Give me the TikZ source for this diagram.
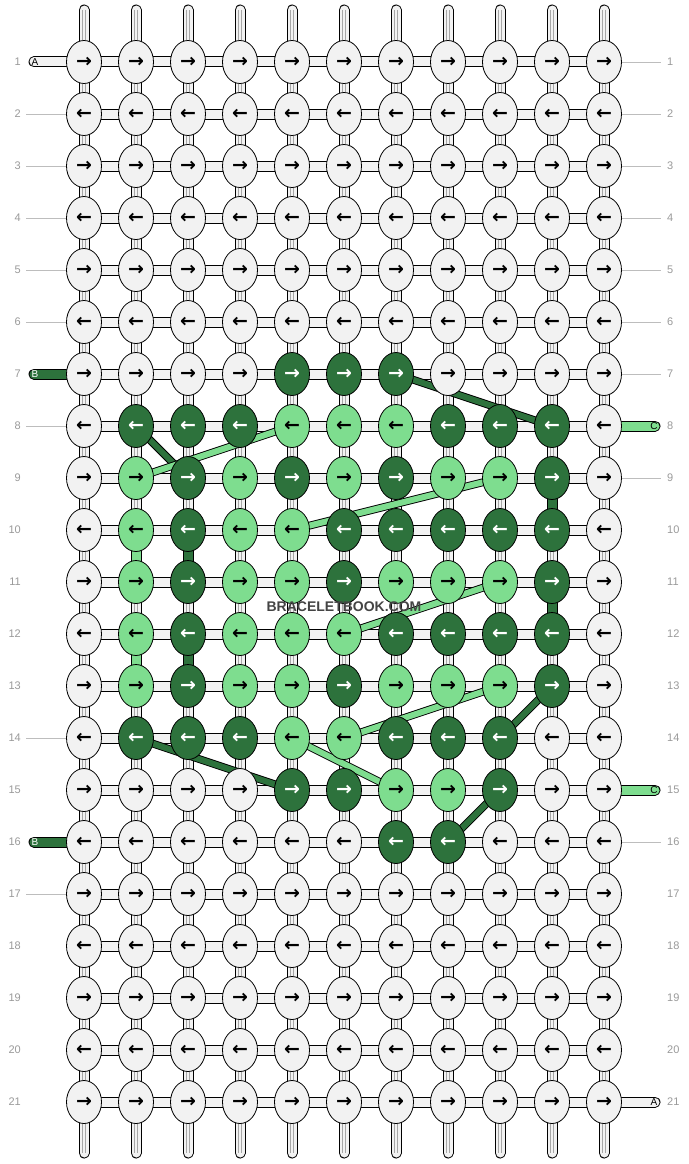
\documentclass[tikz,border=0pt]{standalone}
\usepackage{fontspec}
\setmainfont{Liberation Sans}
\newfontfamily\arrowfont{DejaVu Sans}
\usetikzlibrary{shapes.geometric}

\definecolor{knotw}{HTML}{F2F2F2}
\definecolor{knotl}{HTML}{7EDD8F}
\definecolor{knotd}{HTML}{2D723C}
\definecolor{textw}{HTML}{000000}
\definecolor{textl}{HTML}{000000}
\definecolor{textd}{HTML}{FFFFFF}
\definecolor{numgray}{HTML}{9A9A9A}
\definecolor{guidegray}{HTML}{BDBDBD}
\definecolor{markgray}{HTML}{444444}

\pgfdeclarelayer{strings}
\pgfsetlayers{strings,main}

\begin{document}
\begin{tikzpicture}[x=1pt, y=-1pt,
    knot/.style={ellipse, draw, line width=0.8pt, inner sep=0pt,
                 minimum width=35pt, minimum height=43pt,
                 font=\arrowfont\bfseries\fontsize{19}{19}\selectfont},
    cord/.style={draw=black, double=#1, double distance=9pt, line width=1pt},
    band/.style={draw=black, double=#1, double distance=6pt, line width=0.9pt},
    rownum/.style={text=numgray, inner sep=0pt, font=\fontsize{11}{11}\selectfont},
    tabtext/.style={inner sep=0pt, font=\fontsize{10}{10}\selectfont},
  ]

  \useasboundingbox (0,0) rectangle (688,1164);

  % knots, w = white, l = light green, d = dark green
  \foreach \r/\row in {
      1/{w,w,w,w,w,w,w,w,w,w,w},
      2/{w,w,w,w,w,w,w,w,w,w,w},
      3/{w,w,w,w,w,w,w,w,w,w,w},
      4/{w,w,w,w,w,w,w,w,w,w,w},
      5/{w,w,w,w,w,w,w,w,w,w,w},
      6/{w,w,w,w,w,w,w,w,w,w,w},
      7/{w,w,w,w,d,d,d,w,w,w,w},
      8/{w,d,d,d,l,l,l,d,d,d,w},
      9/{w,l,d,l,d,l,d,l,l,d,w},
     10/{w,l,d,l,l,d,d,d,d,d,w},
     11/{w,l,d,l,l,d,l,l,l,d,w},
     12/{w,l,d,l,l,l,d,d,d,d,w},
     13/{w,l,d,l,l,d,l,l,l,d,w},
     14/{w,d,d,d,l,l,d,d,d,w,w},
     15/{w,w,w,w,d,d,l,l,d,w,w},
     16/{w,w,w,w,w,w,d,d,w,w,w},
     17/{w,w,w,w,w,w,w,w,w,w,w},
     18/{w,w,w,w,w,w,w,w,w,w,w},
     19/{w,w,w,w,w,w,w,w,w,w,w},
     20/{w,w,w,w,w,w,w,w,w,w,w},
     21/{w,w,w,w,w,w,w,w,w,w,w}}{
    \ifodd\r \def\arr{→}\else \def\arr{←}\fi
    \foreach \k [count=\c] in \row
      \node [knot, fill=knot\k, text=text\k] (n-\r-\c)
            at ({84+52*(\c-1)}, {62+52*(\r-1)}) {\arr};
  }

  % row numbers
  \foreach \r in {1,...,21} {
    \node [rownum, anchor=east] (num-l-\r) at (21, {62+52*(\r-1)}) {\r};
    \node [rownum, anchor=west] (num-r-\r) at (667, {62+52*(\r-1)}) {\r};
  }
  \foreach \r in {2,...,6,8,...,15,17,...,21}
    \draw [guidegray, line width=0.8pt] ([xshift=5pt]num-l-\r.east) -- (n-\r-1);
  \foreach \r in {1,...,7,9,...,14,16,...,20}
    \draw [guidegray, line width=0.8pt] (n-\r-11) -- ([xshift=-6pt]num-r-\r.west);

  \begin{pgfonlayer}{strings}
    \fill [white] (0,0) rectangle (688,1164);

    % the strings down each column
    \foreach \c in {1,...,11} {
      \coordinate (top-\c) at ({84+52*(\c-1)}, 10);
      \coordinate (bot-\c) at ({84+52*(\c-1)}, 1153);
      \draw [cord=knotw, line cap=round] (top-\c) -- (bot-\c);
      \draw [gray!70, line width=0.5pt] ([xshift=-1.3pt]top-\c) -- ([xshift=-1.3pt]bot-\c);
      \draw [gray!70, line width=0.5pt] ([xshift=1.3pt]top-\c) -- ([xshift=1.3pt]bot-\c);
    }

    % between the knots of a row
    \foreach \r in {1,...,21}
      \foreach \c [remember=\c as \prev (initially 1)] in {2,...,11}
        \draw [cord=knotw] (n-\r-\prev.center) -- (n-\r-\c.center);

    % loose ends
    \foreach \r/\lab/\k in {1/A/w, 7/B/d, 16/B/d} {
      \coordinate (end-l-\r) at (34, {62+52*(\r-1)});
      \draw [cord=knot\k, line cap=round] (end-l-\r) -- (n-\r-1.center);
    }
    \foreach \r/\lab/\k in {8/C/l, 15/C/l, 21/A/w} {
      \coordinate (end-r-\r) at (655, {62+52*(\r-1)});
      \draw [cord=knot\k, line cap=round] (n-\r-11.center) -- (end-r-\r);
    }

    % coloured turns
    \draw [cord=knotl] (n-10-2.center) -- (n-11-2.center);
    \draw [cord=knotl] (n-12-2.center) -- (n-13-2.center);
    \draw [cord=knotd] (n-10-3.center) -- (n-11-3.center);
    \draw [cord=knotd] (n-12-3.center) -- (n-13-3.center);
    \draw [cord=knotd] (n-9-10.center) -- (n-10-10.center);
    \draw [cord=knotd] (n-11-10.center) -- (n-12-10.center);

    % dark strings carried across
    \draw [band=knotd] (n-7-7.center) -- (n-8-10.center);
    \draw [band=knotd] (n-8-2.center) -- (n-9-3.center);
    \draw [band=knotd] (n-14-2.center) -- (n-15-5.center);
    \draw [band=knotd] (n-13-10.center) -- (n-14-9.center);
    \draw [band=knotd] (n-15-9.center) -- (n-16-8.center);

    % light strings carried across
    \draw [band=knotl] (n-9-2.center) -- (n-8-5.center);
    \draw [band=knotl] (n-10-5.center) -- (n-9-9.center);
    \draw [band=knotl] (n-12-6.center) -- (n-11-9.center);
    \draw [band=knotl] (n-14-6.center) -- (n-13-9.center);
    \draw [band=knotl] (n-14-5.center) -- (n-15-7.center);
  \end{pgfonlayer}

  % labels on the loose ends
  \foreach \r/\lab/\k in {1/A/w, 7/B/d, 16/B/d}
    \node [tabtext, text=text\k] (lab-l-\r) at (35, {62+52*(\r-1)}) {\lab};
  \foreach \r/\lab/\k in {8/C/l, 15/C/l, 21/A/w}
    \node [tabtext, text=text\k] (lab-r-\r) at (654, {62+52*(\r-1)}) {\lab};

  \node [text=markgray, font=\bfseries\fontsize{14}{14}\selectfont]
        (mark) at (344, 607) {BRACELETBOOK.COM};

\end{tikzpicture}
\end{document}
